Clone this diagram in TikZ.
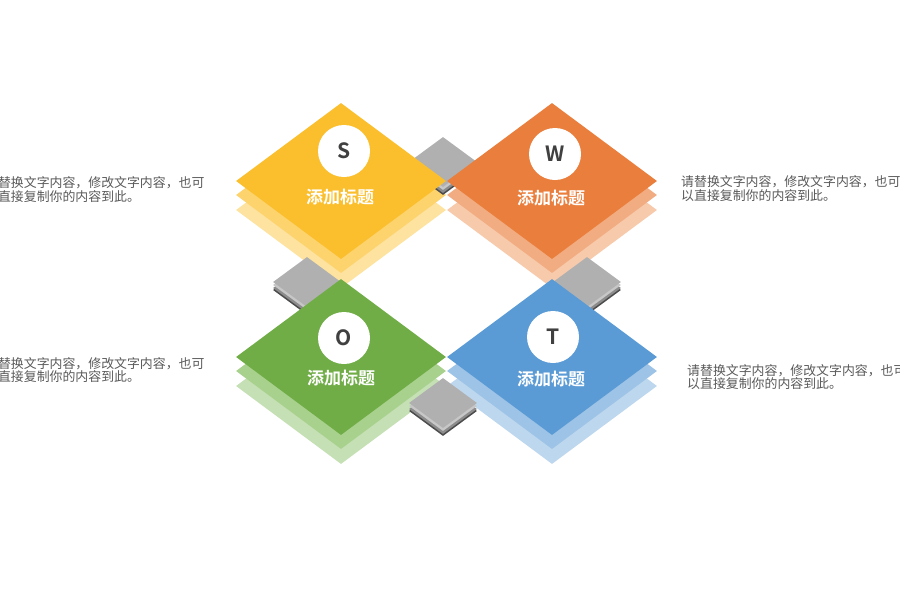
\documentclass[tikz,border=0pt]{standalone}
\usepackage{fontspec}
\usepackage{tikz}
\usetikzlibrary{shapes.geometric}
\newfontfamily\cjk[BoldFont={Noto Sans CJK SC Bold}]{Noto Sans CJK SC}
\definecolor{sA}{HTML}{FBBF2D}
\definecolor{sB}{HTML}{FDD36E}
\definecolor{sC}{HTML}{FDE39F}
\definecolor{wA}{HTML}{EA7E3C}
\definecolor{wB}{HTML}{F2AC82}
\definecolor{wC}{HTML}{F7CAAC}
\definecolor{oA}{HTML}{70AD47}
\definecolor{oB}{HTML}{A9D18E}
\definecolor{oC}{HTML}{C5E0B4}
\definecolor{tA}{HTML}{5B9BD5}
\definecolor{tB}{HTML}{9DC3E6}
\definecolor{tC}{HTML}{BDD7EE}
\definecolor{letter}{HTML}{404040}
\definecolor{note}{HTML}{595959}

\begin{document}
\begin{tikzpicture}[x=1pt,y=-1pt,
    tile/.style={diamond,inner sep=0pt,minimum width=210pt,minimum height=156pt},
    chip/.style={diamond,inner sep=0pt,minimum width=68pt,minimum height=50pt},
    badge/.style={circle,fill=white,minimum size=52pt,inner sep=0pt,text=letter,font=\cjk\bfseries\fontsize{21}{21}\selectfont},
    title/.style={text=white,font=\cjk\bfseries\fontsize{17}{17}\selectfont},
    note/.style={anchor=west,align=left,text=note,inner sep=0pt,font=\cjk\fontsize{12.9}{13.6}\selectfont}]
    \useasboundingbox (0,0) rectangle (900,600);
    % Lowest layers
    \node[tile,fill=sC] (S3) at (341,210) {};
    \node[tile,fill=wC] (W3) at (552,210) {};
    \node[tile,fill=oC] (O3) at (341,386) {};
    \node[tile,fill=tC] (T3) at (552,386) {};
    % Middle layers
    \node[tile,fill=sB] (S2) at (341,195) {};
    \node[tile,fill=wB] (W2) at (552,195) {};
    \node[tile,fill=oB] (O2) at (341,371) {};
    \node[tile,fill=tB] (T2) at (552,371) {};
    % Grey joints between the tiles
    \foreach \jx/\jy/\jn in {443/162/SW, 307/282/SO, 587/282/WT, 443/403/OT} {
        \node[chip,fill=black!70] (\jn3) at (\jx,\jy+8) {};
        \node[chip,fill=black!45] (\jn2) at (\jx,\jy+6) {};
        \node[chip,fill=black!22] (\jn1) at (\jx,\jy+3) {};
        \node[chip,fill=black!31] (\jn) at (\jx,\jy) {};
    }
    % Top layers
    \node[tile,fill=sA] (S) at (341,181) {};
    \node[tile,fill=wA] (W) at (552,181) {};
    \node[tile,fill=oA] (O) at (341,357) {};
    \node[tile,fill=tA] (T) at (552,357) {};
    % Letters
    \node[badge] (sLetter) at (344,151) {S};
    \node[badge] (wLetter) at (555,154) {W};
    \node[badge] (oLetter) at (344,338) {O};
    \node[badge] (tLetter) at (553,337) {T};
    % Titles
    \node[title] (sTitle) at (340,197) {添加标题};
    \node[title] (wTitle) at (551,198) {添加标题};
    \node[title] (oTitle) at (341,378) {添加标题};
    \node[title] (tTitle) at (551,379) {添加标题};
    % Side notes
    \node[note] (sNote) at (-15,189.5) {请替换文字内容，修改文字内容，也可\\以直接复制你的内容到此。};
    \node[note] (wNote) at (681,188.5) {请替换文字内容，修改文字内容，也可\\以直接复制你的内容到此。};
    \node[note] (oNote) at (-15,370) {请替换文字内容，修改文字内容，也可\\以直接复制你的内容到此。};
    \node[note] (tNote) at (687,377) {请替换文字内容，修改文字内容，也可\\以直接复制你的内容到此。};
\end{tikzpicture}
\end{document}
